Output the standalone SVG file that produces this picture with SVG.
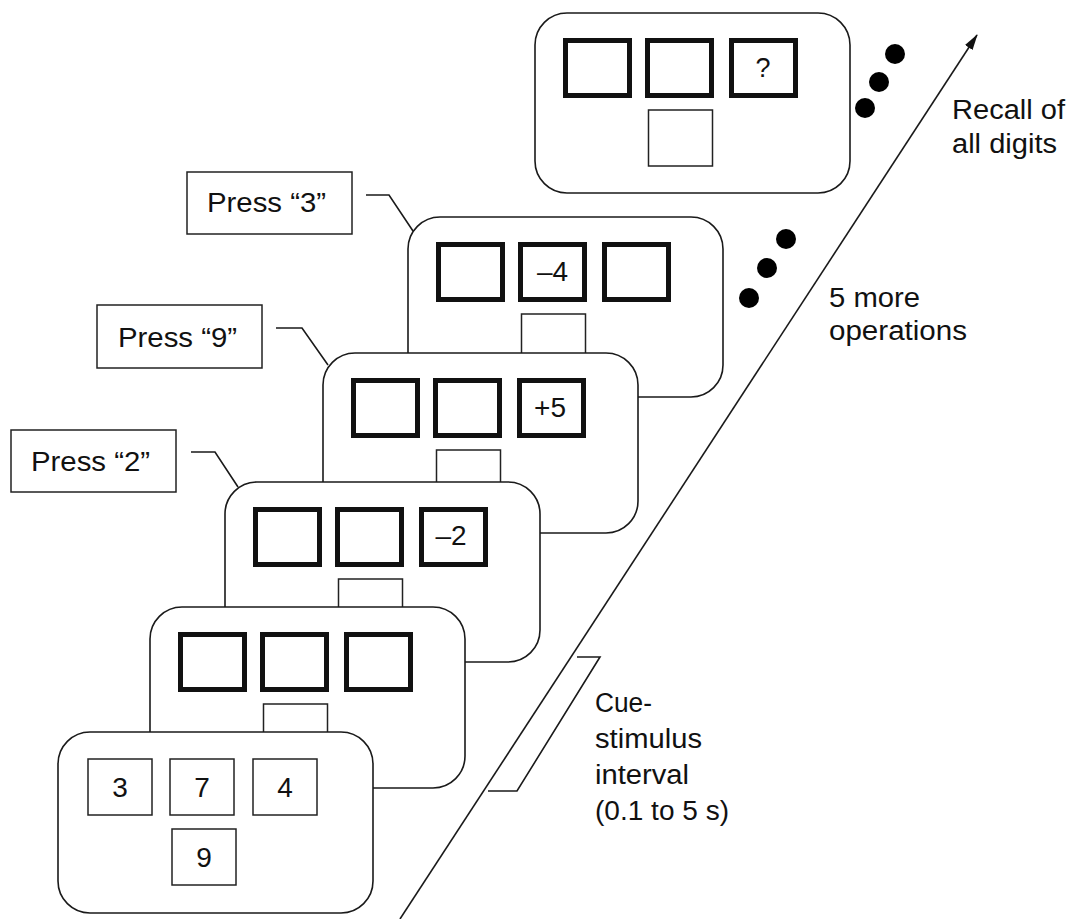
<svg xmlns="http://www.w3.org/2000/svg" width="1070" height="919" viewBox="0 0 1070 919">
  <style>
    .card { fill: #fff; stroke: #1a1a1a; stroke-width: 1.6; }
    .thick { fill: #fff; stroke: #111; stroke-width: 5; }
    .thin { fill: #fff; stroke: #222; stroke-width: 1.5; }
    .line { fill: none; stroke: #1a1a1a; stroke-width: 1.6; }
    .txt { font-family: "Liberation Sans", Arial, Helvetica, sans-serif; font-size: 27px; fill: #111; }
    .num { font-size: 28px; }
    .mid { text-anchor: middle; }
    .dot { fill: #000; }
  </style>
  <defs>
    <marker id="arrowhead" markerUnits="userSpaceOnUse" markerWidth="16" markerHeight="9" refX="15" refY="4.5" orient="auto">
      <path d="M0,0 L16,4.5 L0,9 Z" fill="#111"/>
    </marker>
  </defs>
  <rect width="1070" height="919" fill="#fff"/>

  <g id="connectors">
    <line id="time-arrow" class="line" x1="400" y1="919" x2="977" y2="35" marker-end="url(#arrowhead)"/>
    <polyline id="interval-bracket" class="line" points="577,657 600,657 517,791 488,791"/>
    <polyline id="leader-press3" class="line" points="366,195 389,195 413,231"/>
    <polyline id="leader-press9" class="line" points="276,328 302,328 328,365"/>
    <polyline id="leader-press2" class="line" points="191,452 215,452 238,487"/>
  </g>

  <g id="card-recall" transform="translate(535,13)">
    <rect class="card" x="0" y="0" width="315" height="180" rx="32"/>
    <rect class="thick" x="30.5" y="27.5" width="64" height="55"/>
    <rect class="thick" x="112.5" y="27.5" width="64" height="55"/>
    <rect class="thick" x="196.5" y="27.5" width="64" height="55"/>
    <rect class="thin" x="113.5" y="97" width="64" height="56"/>
    <text class="txt mid" x="228" y="64" font-size="26">?</text>
  </g>

  <g id="card-minus4" transform="translate(408,217)">
    <rect class="card" x="0" y="0" width="315" height="180" rx="32"/>
    <rect class="thick" x="30.5" y="27.5" width="64" height="55"/>
    <rect class="thick" x="112.5" y="27.5" width="64" height="55"/>
    <rect class="thick" x="196.5" y="27.5" width="64" height="55"/>
    <rect class="thin" x="113.5" y="97" width="64" height="56"/>
    <text class="txt num mid" x="144.5" y="64">–4</text>
  </g>

  <g id="card-plus5" transform="translate(323,353)">
    <rect class="card" x="0" y="0" width="315" height="180" rx="32"/>
    <rect class="thick" x="30.5" y="27.5" width="64" height="55"/>
    <rect class="thick" x="112.5" y="27.5" width="64" height="55"/>
    <rect class="thick" x="196.5" y="27.5" width="64" height="55"/>
    <rect class="thin" x="113.5" y="97" width="64" height="56"/>
    <text class="txt num mid" x="227" y="64">+5</text>
  </g>

  <g id="card-minus2" transform="translate(225,482)">
    <rect class="card" x="0" y="0" width="315" height="180" rx="32"/>
    <rect class="thick" x="30.5" y="27.5" width="64" height="55"/>
    <rect class="thick" x="112.5" y="27.5" width="64" height="55"/>
    <rect class="thick" x="196.5" y="27.5" width="64" height="55"/>
    <rect class="thin" x="113.5" y="97" width="64" height="56"/>
    <text class="txt num mid" x="226" y="63">–2</text>
  </g>

  <g id="card-blank" transform="translate(150,607)">
    <rect class="card" x="0" y="0" width="315" height="181" rx="32"/>
    <rect class="thick" x="30.5" y="27.5" width="64" height="55"/>
    <rect class="thick" x="112.5" y="27.5" width="64" height="55"/>
    <rect class="thick" x="196.5" y="27.5" width="64" height="55"/>
    <rect class="thin" x="113.5" y="97" width="64" height="56"/>
  </g>

  <g id="card-digits" transform="translate(58,732)">
    <rect class="card" x="0" y="0" width="315" height="181" rx="32"/>
    <rect class="thin" x="30" y="27" width="64" height="56"/>
    <rect class="thin" x="112" y="27" width="64" height="56"/>
    <rect class="thin" x="195" y="27" width="64" height="56"/>
    <rect class="thin" x="114" y="97" width="64" height="56"/>
    <text class="txt num mid" x="62" y="65">3</text>
    <text class="txt num mid" x="144" y="65">7</text>
    <text class="txt num mid" x="227" y="65">4</text>
    <text class="txt num mid" x="146" y="135">9</text>
  </g>

  <g id="label-press3">
    <rect class="thin" x="187" y="172" width="165" height="62"/>
    <text class="txt" x="207" y="212" font-size="29" textLength="119" lengthAdjust="spacingAndGlyphs">Press “3”</text>
  </g>
  <g id="label-press9">
    <rect class="thin" x="97" y="305" width="165" height="63"/>
    <text class="txt" x="118" y="347" font-size="29" textLength="119" lengthAdjust="spacingAndGlyphs">Press “9”</text>
  </g>
  <g id="label-press2">
    <rect class="thin" x="11" y="430" width="165" height="62"/>
    <text class="txt" x="31" y="471" font-size="29" textLength="119" lengthAdjust="spacingAndGlyphs">Press “2”</text>
  </g>

  <g id="dots-upper">
    <circle class="dot" cx="895" cy="54" r="10"/>
    <circle class="dot" cx="879" cy="82" r="10"/>
    <circle class="dot" cx="865" cy="108" r="10"/>
  </g>
  <g id="dots-lower">
    <circle class="dot" cx="786" cy="239" r="10"/>
    <circle class="dot" cx="767" cy="268" r="10"/>
    <circle class="dot" cx="749" cy="298" r="10"/>
  </g>

  <g id="label-recall">
    <text class="txt" x="952" y="119" textLength="113" lengthAdjust="spacingAndGlyphs">Recall of</text>
    <text class="txt" x="952" y="153" textLength="105" lengthAdjust="spacingAndGlyphs">all digits</text>
  </g>
  <g id="label-operations">
    <text class="txt" x="829" y="307" textLength="91" lengthAdjust="spacingAndGlyphs">5 more</text>
    <text class="txt" x="829" y="340" textLength="138" lengthAdjust="spacingAndGlyphs">operations</text>
  </g>
  <g id="label-interval">
    <text class="txt" x="595" y="712" textLength="57" lengthAdjust="spacingAndGlyphs">Cue-</text>
    <text class="txt" x="595" y="748" textLength="107" lengthAdjust="spacingAndGlyphs">stimulus</text>
    <text class="txt" x="595" y="784" textLength="94" lengthAdjust="spacingAndGlyphs">interval</text>
    <text class="txt" x="595" y="820" textLength="134" lengthAdjust="spacingAndGlyphs">(0.1 to 5 s)</text>
  </g>
</svg>
